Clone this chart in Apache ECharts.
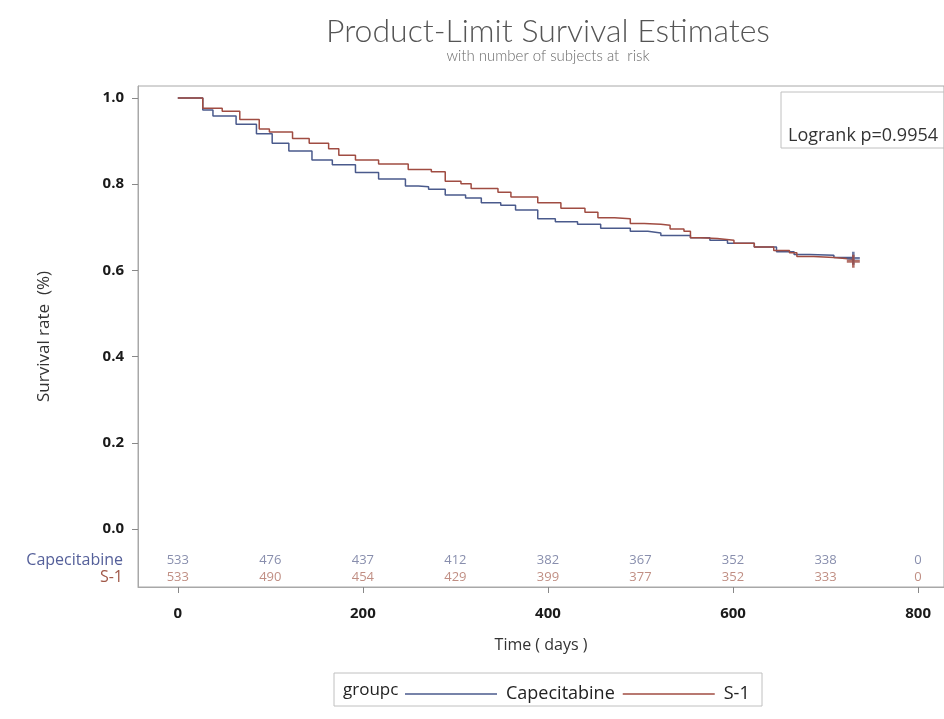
<!DOCTYPE html>
<html>
<head>
<meta charset="utf-8">
<script src="https://cdn.jsdelivr.net/npm/echarts@6/dist/echarts.min.js"></script>
<style>html,body{margin:0;padding:0;background:#fff;}#c{width:944px;height:719px;}</style>
</head>
<body>
<div id="c"></div>
<script>
// ---- data ----
const groups = ['Capecitabine', 'S-1'];
const capTime = [0, 27, 38, 63, 85, 102, 120, 145, 167, 192, 217, 246, 260, 271, 289, 311, 328, 349, 365, 389, 408, 432, 457, 489, 508, 522, 554, 575, 594, 623, 647, 666, 683, 709, 730];
const capSurv = [1.0, 0.972, 0.958, 0.939, 0.917, 0.895, 0.877, 0.856, 0.845, 0.827, 0.812, 0.796, 0.794, 0.788, 0.775, 0.768, 0.757, 0.751, 0.740, 0.720, 0.713, 0.707, 0.698, 0.691, 0.687, 0.681, 0.676, 0.670, 0.663, 0.654, 0.643, 0.637, 0.635, 0.630, 0.628];
const s1Time = [0, 27, 48, 67, 88, 99, 124, 142, 163, 174, 192, 217, 249, 274, 289, 306, 317, 346, 360, 389, 414, 440, 454, 472, 489, 504, 522, 532, 547, 554, 565, 583, 601, 623, 644, 661, 669, 687, 709, 730];
const s1Surv = [1.0, 0.976, 0.969, 0.950, 0.928, 0.921, 0.906, 0.895, 0.882, 0.867, 0.856, 0.847, 0.834, 0.829, 0.807, 0.801, 0.790, 0.781, 0.770, 0.757, 0.744, 0.735, 0.722, 0.720, 0.709, 0.707, 0.705, 0.696, 0.691, 0.676, 0.674, 0.670, 0.663, 0.654, 0.646, 0.641, 0.632, 0.630, 0.626, 0.621];
const capCensor = [[730, 0.628]];
const s1Censor = [[730, 0.621]];
const riskTimes = [0, 100, 200, 300, 400, 500, 600, 700, 800];
const capRisk = [533, 476, 437, 412, 382, 367, 352, 338, 0];
const s1Risk = [533, 490, 454, 429, 399, 377, 352, 333, 0];
const xTicks = [0, 200, 400, 600, 800];
const yTicks = [0, 0.2, 0.4, 0.6, 0.8, 1.0];
const pValueText = 'Logrank p=0.9954';

// ---- styles ----
const blue = '#4a5a8c';
const red = '#a04c42';
const blueTxt = '#6a7298';
const redTxt = '#b07264';
const font = 'Open Sans';

const zip = (a, b) => a.map((v, i) => [v, b[i]]);
const plus = 'path://M4,0h2v4h4v2h-4v4h-2v-4h-4v-2h4z';

const xMin = -43, xMax = 828;
const chart = echarts.init(document.getElementById('c'), null, {renderer: 'canvas'});
chart.setOption({
  animation: false,
  backgroundColor: '#fff',
  title: {
    text: 'Product-Limit Survival Estimates',
    subtext: 'with number of subjects at  risk',
    left: 543, top: 11, textAlign: 'center', itemGap: 1,
    textStyle: {fontFamily: 'Lato', fontWeight: 300, fontSize: 32, color: '#555'},
    subtextStyle: {fontFamily: 'Lato', fontWeight: 300, fontSize: 15, color: '#6a6a6a'}
  },
  grid: [
    {left: 138, top: 86, width: 810, height: 501, show: true, borderColor: '#a8a8a8', borderWidth: 1, containLabel: false},
    {left: 138, top: 552, width: 810, height: 34, containLabel: false}
  ],
  xAxis: [
    {type: 'value', gridIndex: 0, min: xMin, max: xMax,
     name: 'Time ( days )', nameLocation: 'middle', nameGap: 50,
     nameTextStyle: {fontFamily: font, fontSize: 16, color: '#333'},
     axisLine: {show: true, onZero: false, lineStyle: {color: '#a8a8a8'}},
     axisTick: {show: true, customValues: xTicks, length: 6, lineStyle: {color: '#888'}},
     axisLabel: {customValues: xTicks, fontFamily: font, fontWeight: 'bold', fontSize: 15, color: '#1a1a1a', margin: 19},
     splitLine: {show: false}},
    {type: 'value', gridIndex: 1, min: xMin, max: xMax, show: false}
  ],
  yAxis: [
    {type: 'value', gridIndex: 0, min: -0.1346, max: 1.0278,
     name: 'Survival rate  (%)', nameLocation: 'middle', nameGap: 85, nameRotate: 90,
     nameTextStyle: {fontFamily: font, fontSize: 17, color: '#333'},
     axisLine: {show: true, onZero: false, lineStyle: {color: '#a8a8a8'}},
     axisTick: {show: true, customValues: yTicks, length: 6, lineStyle: {color: '#888'}},
     axisLabel: {customValues: yTicks, fontFamily: font, fontWeight: 'bold', fontSize: 15, color: '#1a1a1a', margin: 14,
                 formatter: v => v.toFixed(1)},
     splitLine: {show: false}},
    {type: 'category', gridIndex: 1, data: ['S-1', 'Capecitabine'],
     axisLine: {show: false}, axisTick: {show: false},
     axisLabel: {interval: 0, margin: 15, fontFamily: font, fontSize: 16, hideOverlap: false,
       formatter: v => v === 'S-1' ? '{r|' + v + '}' : '{b|' + v + '}',
       rich: {b: {color: '#55609a', fontFamily: font, fontSize: 16}, r: {color: '#a05848', fontFamily: font, fontSize: 16}}}}
  ],
  legend: {
    left: 400, top: 680, itemWidth: 92, itemHeight: 1.6, itemGap: 8, icon: 'rect',
    data: groups,
    textStyle: {fontFamily: font, fontSize: 18, color: '#222', padding: [0, 0, 0, 4]}
  },
  graphic: [
    {type: 'rect', shape: {x: 781, y: 92, width: 200, height: 56}, style: {fill: 'none', stroke: '#c0c0c0', lineWidth: 1}, silent: true},
    {type: 'text', x: 788, y: 136, style: {text: pValueText, fontFamily: font, fontSize: 18, fill: '#333', verticalAlign: 'middle'}, silent: true},
    {type: 'rect', shape: {x: 334, y: 673, width: 428, height: 33}, style: {fill: 'none', stroke: '#c0c0c0', lineWidth: 1}, silent: true},
    {type: 'text', x: 343, y: 690, style: {text: 'groupc', fontFamily: font, fontSize: 17, fill: '#222', verticalAlign: 'middle'}, silent: true}
  ],
  series: [
    {name: groups[0], type: 'line', xAxisIndex: 0, yAxisIndex: 0, step: 'end', symbol: 'none',
     lineStyle: {color: blue, width: 1.5}, itemStyle: {color: blue}, data: zip(capTime, capSurv), z: 3},
    {name: groups[1], type: 'line', xAxisIndex: 0, yAxisIndex: 0, step: 'end', symbol: 'none',
     lineStyle: {color: red, width: 1.5}, itemStyle: {color: red}, data: zip(s1Time, s1Surv), z: 4},
    {type: 'scatter', xAxisIndex: 0, yAxisIndex: 0, symbol: plus, symbolSize: 13, itemStyle: {color: blue}, data: capCensor, z: 5},
    {type: 'scatter', xAxisIndex: 0, yAxisIndex: 0, symbol: plus, symbolSize: 13, itemStyle: {color: red}, data: s1Censor, z: 5},
    {type: 'scatter', xAxisIndex: 1, yAxisIndex: 1, symbolSize: 0,
     data: riskTimes.map((t, i) => [t, 'Capecitabine', capRisk[i]]),
     label: {show: true, position: 'inside', formatter: p => String(p.value[2]), fontFamily: font, fontSize: 13, color: blueTxt}},
    {type: 'scatter', xAxisIndex: 1, yAxisIndex: 1, symbolSize: 0,
     data: riskTimes.map((t, i) => [t, 'S-1', s1Risk[i]]),
     label: {show: true, position: 'inside', formatter: p => String(p.value[2]), fontFamily: font, fontSize: 13, color: redTxt}}
  ]
});
</script>
</body>
</html>
